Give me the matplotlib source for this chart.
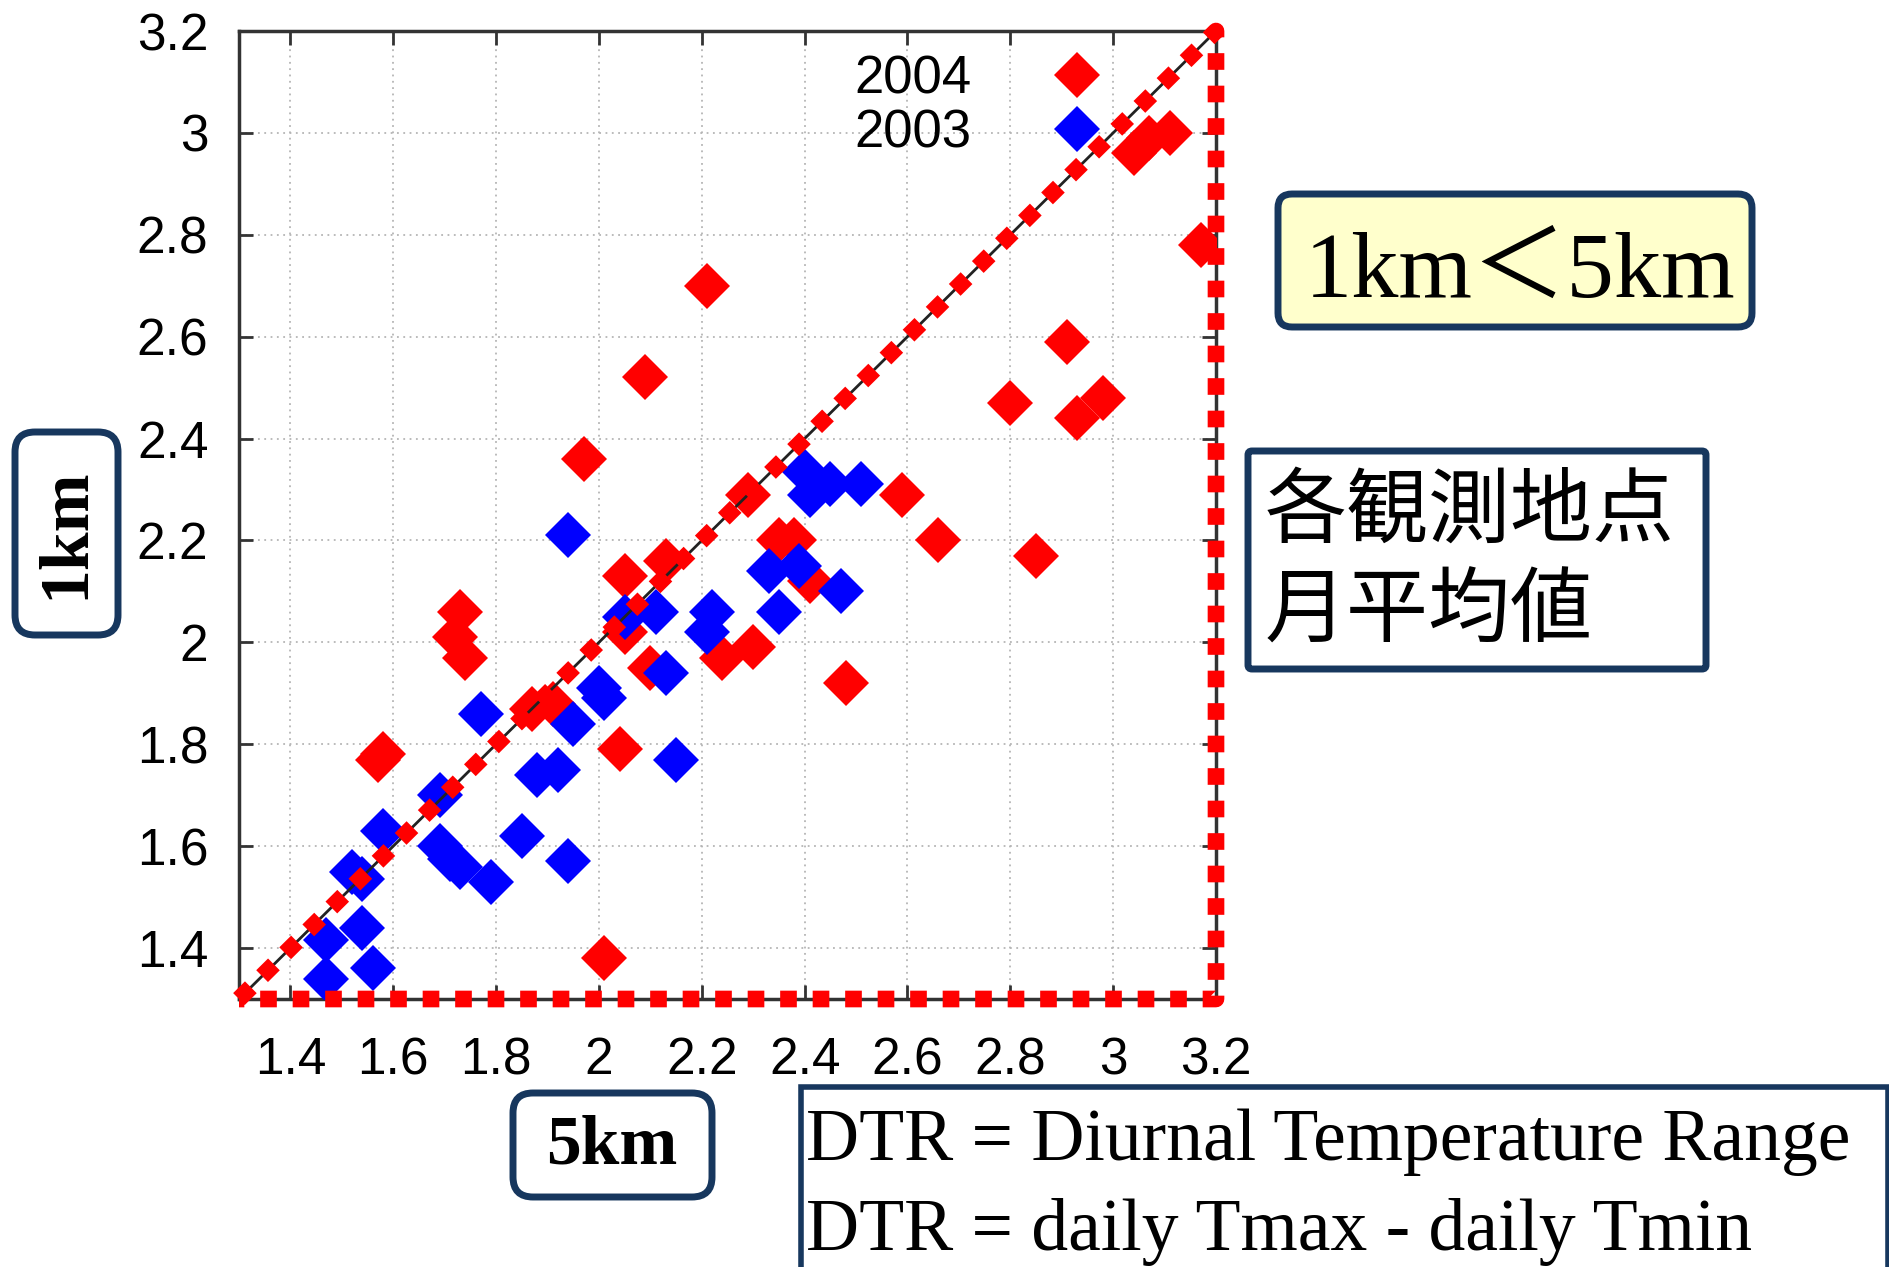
import matplotlib
matplotlib.use('Agg')
import matplotlib.pyplot as plt
from matplotlib.patches import FancyBboxPatch, Rectangle
from matplotlib.lines import Line2D

# monthly mean DTR at each station, 5km run (x) vs 1km run (y)
x_2004 = [2.21, 2.09, 1.97, 2.91, 2.80, 2.93, 2.98, 3.04, 3.07, 3.11, 3.17,
          2.29, 2.59, 2.66, 2.85, 2.35, 2.38, 2.41, 2.24, 2.30, 2.48,
          1.73, 1.72, 1.74, 1.58, 1.57, 1.87, 1.91, 2.01, 2.05, 2.13,
          2.05, 2.10, 2.04]
y_2004 = [2.70, 2.52, 2.36, 2.59, 2.47, 2.44, 2.48, 2.96, 2.99, 3.00, 2.78,
          2.29, 2.29, 2.20, 2.17, 2.20, 2.20, 2.12, 1.97, 1.99, 1.92,
          2.06, 2.01, 1.97, 1.78, 1.77, 1.87, 1.88, 1.38, 2.13, 2.16,
          2.02, 1.95, 1.79]

x_2003 = [2.40, 2.41, 2.45, 2.51, 2.33, 2.39, 2.47, 2.35,
          1.94, 1.77, 1.95, 2.00, 2.01, 2.05, 2.11, 2.13, 2.22, 2.21,
          1.88, 1.92, 2.15, 1.69, 1.58, 1.69, 1.71, 1.73, 1.79, 1.85,
          1.94, 1.52, 1.54, 1.54, 1.47, 1.47, 1.56]
y_2003 = [2.335, 2.29, 2.31, 2.31, 2.14, 2.15, 2.10, 2.06,
          2.21, 1.86, 1.84, 1.91, 1.89, 2.05, 2.06, 1.94, 2.06, 2.02,
          1.74, 1.75, 1.77, 1.70, 1.63, 1.60, 1.575, 1.56, 1.53, 1.62,
          1.57, 1.55, 1.535, 1.44, 1.415, 1.34, 1.36]

ticks = [1.4, 1.6, 1.8, 2.0, 2.2, 2.4, 2.6, 2.8, 3.0, 3.2]
tick_labels = ['1.4', '1.6', '1.8', '2', '2.2', '2.4', '2.6', '2.8', '3', '3.2']
lo, hi = 1.3, 3.2

W, H = 1890, 1267
navy = '#17375E'
ms = 23

fig = plt.figure(figsize=(W / 100, H / 100), dpi=100)
ax = fig.add_axes([239 / W, 1 - 999 / H, 977 / W, 968 / H])

ax.plot(x_2004, y_2004, ls='none', marker='D', ms=ms, mew=0, color='red', zorder=3)
ax.plot(x_2003, y_2003, ls='none', marker='D', ms=ms, mew=0, color='blue', zorder=3)

# 1:1 line and the red dotted triangle below it
ax.plot([lo, hi], [lo, hi], color='#222222', lw=2, zorder=4)
ax.plot([lo, hi, hi, lo], [lo, hi, lo, lo], color='red', lw=12,
        ls=(0, (1.0, 0.95)), dash_capstyle='butt', clip_on=False, zorder=5)

ax.set_xlim(lo, hi)
ax.set_ylim(lo, hi)
ax.set_xticks(ticks)
ax.set_yticks(ticks)
ax.set_xticklabels(tick_labels, family='Liberation Sans', fontsize=37)
ax.set_yticklabels(tick_labels, family='Liberation Sans', fontsize=37)
ax.tick_params(direction='in', length=10, width=2, color='#333333',
               top=True, right=True)
ax.tick_params(axis='x', pad=27)
ax.tick_params(axis='y', pad=22)
for s in ax.spines.values():
    s.set_linewidth(2.5)
    s.set_color('#333333')
ax.set_axisbelow(True)
ax.grid(True, ls=(0, (1, 2.5)), color='#b5b5b5', lw=1.3)

handles = [Line2D([], [], ls='none', marker='D', ms=ms, mew=0, color='red'),
           Line2D([], [], ls='none', marker='D', ms=ms, mew=0, color='blue')]
ax.legend(handles, ['2004', '2003'], loc='upper right', bbox_to_anchor=(0.885, 0.976),
          markerfirst=False, frameon=False, handlelength=1.0, handletextpad=1.5,
          labelspacing=0.08, borderpad=0, borderaxespad=0,
          prop={'family': 'Liberation Sans', 'size': 38})


def box(x0, y0, x1, y1, rad, fc='white', lw=5):
    p = FancyBboxPatch((x0 / 100, (H - y1) / 100), (x1 - x0) / 100, (y1 - y0) / 100,
                       boxstyle='round,pad=0,rounding_size=%g' % rad,
                       transform=fig.dpi_scale_trans, fc=fc, ec=navy, lw=lw, zorder=1)
    fig.add_artist(p)


# axis name boxes
box(15, 432, 118, 635, 0.2)
fig.text(66 / W, 1 - 533 / H, '1km', rotation=90, ha='center', va='center',
         family='Liberation Serif', weight='bold', fontsize=50)
box(513, 1093, 712, 1197, 0.2)
fig.text(612 / W, 1 - 1146 / H, '5km', ha='center', va='center',
         family='Liberation Serif', weight='bold', fontsize=50)

box(1278, 194, 1752, 327, 0.14, fc='#FFFFCC')
fig.text(1520 / W, 1 - 297 / H, '1km＜5km', ha='center', va='baseline',
         family=['Liberation Serif', 'Noto Sans CJK JP'], fontsize=68)

box(1248, 451, 1706, 669, 0.04)
fig.text(1470 / W, 1 - 562 / H, '各観測地点\n月平均値', ha='center', va='center',
         multialignment='left', family=['Noto Sans CJK JP'], fontsize=59,
         linespacing=1.22)

fig.add_artist(Rectangle((801 / 100, (H - 1300) / 100), 1087 / 100, 213 / 100,
                         transform=fig.dpi_scale_trans, fc='white', ec=navy, lw=4,
                         clip_on=False))
fig.text(806 / W, 1 - 1160 / H, 'DTR = Diurnal Temperature Range', ha='left',
         va='baseline', family='Liberation Serif', fontsize=53)
fig.text(806 / W, 1 - 1250 / H, 'DTR = daily Tmax - daily Tmin', ha='left',
         va='baseline', family='Liberation Serif', fontsize=53)

fig.savefig('out.png', dpi=100)
